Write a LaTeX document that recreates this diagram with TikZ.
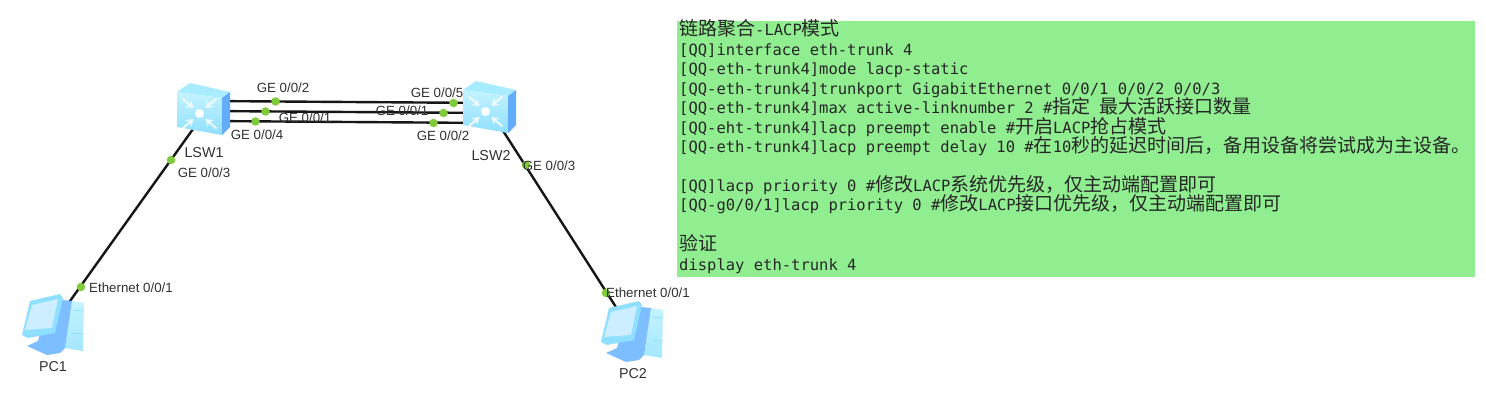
\documentclass[tikz,border=0pt]{standalone}
\usepackage{fontspec}
\setmainfont{Liberation Sans}
\setmonofont{DejaVu Sans Mono}
\newfontfamily\cjk{Noto Sans CJK SC}
\usetikzlibrary{arrows.meta,positioning,calc}
\definecolor{cfggreen}{HTML}{90EE90}
\definecolor{portgreen}{HTML}{7FCB3A}
\definecolor{linkblack}{HTML}{161616}
\definecolor{labelgray}{HTML}{303030}
\definecolor{icontop}{HTML}{A8ECFF}
\definecolor{iconlight}{HTML}{C4F3FF}
\definecolor{iconmid}{HTML}{8FDFFF}
\definecolor{iconside}{HTML}{7CBEFF}
\definecolor{iconblue}{HTML}{62ACFA}
\definecolor{iconscreen}{HTML}{CDEEFF}
\newcommand{\cn}[1]{{\cjk\fontsize{19}{19.45}\selectfont #1}}
\tikzset{
  devbox/.style={inner sep=0pt, minimum size=4pt},
  portdot/.style={circle, fill=portgreen, inner sep=0pt, minimum size=8.5pt},
  portlabel/.style={text=labelgray, inner sep=0pt, font=\fontsize{13.3}{15}\selectfont},
  devlabel/.style={text=labelgray, inner sep=0pt, font=\fontsize{14.3}{16}\selectfont},
  linkline/.style={linkblack, line width=2.4pt},
  cfgbox/.style={fill=cfggreen, inner sep=0pt, anchor=north west, minimum width=798pt, minimum height=256pt},
  cfgline/.style={inner sep=0pt, anchor=base west, text=black!85,
    font=\ttfamily\fontsize{15.5}{19.45}\selectfont},
  switchicon/.pic={
    \fill[icontop] (-30,-17.5) -- (-17,-26.5) -- (23,-17.5) -- (15,-11.5) -- cycle;
    \shade[top color=iconlight, bottom color=iconmid] (-30,-17.5) -- (15,-11.5) -- (15,25.5) -- (-30,17.5) -- cycle;
    \fill[iconblue] (15,-11.5) -- (23,-17.5) -- (23,17.5) -- (15,25.5) -- cycle;
    \foreach \sx/\sy in {-1/-1, 1/-1, -1/1, 1/1} {
      \draw[white!70!iconlight, line width=2pt, -{Stealth[length=7pt,width=9pt]}]
        (-7.5+\sx*17,4+\sy*15) -- (-7.5+\sx*6,4+\sy*5.5);
    }
    \fill[white] (-7.5,4) circle (4.5pt);
  },
  pcicon/.pic={
    \shade[top color=iconlight, bottom color=iconmid!60!iconlight] (17,-21) -- (29,-19) -- (28,29) -- (10,26) -- cycle;
    \fill[iconside] (7,-22) -- (17,-21) -- (10,26) -- (5,31) -- (-8,33) -- (-28,24) -- (-17,19) -- (-15,12) -- (0,9) -- cycle;
    \fill[iconmid] (-25,-21) -- (5,-28) -- (8,-24) -- (0,11) -- (-27,16) -- (-33,13) -- cycle;
    \fill[iconscreen] (-23,-17) -- (3,-23) -- (-3,6) -- (-30,8) -- cycle;
    \draw[iconmid, line width=.8pt] (18,-12) -- (28,-11) (17,11) -- (28,12);
  }
}
\begin{document}
\begin{tikzpicture}[x=1pt, y=-1pt]
  \useasboundingbox (0,0) rectangle (1486,409);

  \node[devbox] (LSW1) at (207,109.5) {};
  \node[devbox] (LSW2) at (491,112) {};
  \node[devbox] (PC1) at (55,322) {};
  \node[devbox] (PC2) at (630,329) {};

  \draw[linkline] ([yshift=8.5pt]LSW1.center) -- ([yshift=9pt]LSW2.center);
  \draw[linkline] ([yshift=-1.5pt]LSW1.center) -- ([yshift=-1pt]LSW2.center);
  \draw[linkline] ([yshift=-11.5pt]LSW1.center) -- ([yshift=-11pt]LSW2.center);
  \draw[linkline] (LSW1.center) -- (PC1.center);
  \draw[linkline] (LSW2.center) -- (PC2.center);

  \pic at (207,109.5) {switchicon};
  \pic at (493,107.5) {switchicon};
  \pic at (55,322) {pcicon};
  \pic at (634,329) {pcicon};

  \node[portdot] (p1a) at (275.5,101.5) {};
  \node[portdot] (p1b) at (265.5,111.5) {};
  \node[portdot] (p1c) at (255.5,121.5) {};
  \node[portdot] (p1d) at (171,160) {};
  \node[portdot] (p2a) at (453.5,103) {};
  \node[portdot] (p2b) at (443.5,113) {};
  \node[portdot] (p2c) at (433.5,123) {};
  \node[portdot] (p2d) at (526,165) {};
  \node[portdot] (pc1p) at (81,287) {};
  \node[portdot] (pc2p) at (606,293) {};

  \node[portlabel] (l1a) at (283,88) {GE 0/0/2};
  \node[portlabel] (l1b) at (305,118) {GE 0/0/1};
  \node[portlabel] (l1c) at (257,135) {GE 0/0/4};
  \node[portlabel] (l1d) at (204,173) {GE 0/0/3};
  \node[portlabel] (l2a) at (437,93) {GE 0/0/5};
  \node[portlabel] (l2b) at (402,110.5) {GE 0/0/1};
  \node[portlabel] (l2c) at (443,136) {GE 0/0/2};
  \node[portlabel] (l2d) at (549,166) {GE 0/0/3};
  \node[portlabel] (lpc1) at (131,288) {Ethernet 0/0/1};
  \node[portlabel] (lpc2) at (648,293) {Ethernet 0/0/1};

  \node[devlabel] (nLSW1) at (204,153) {LSW1};
  \node[devlabel] (nLSW2) at (491,156) {LSW2};
  \node[devlabel] (nPC1) at (53,367) {PC1};
  \node[devlabel] (nPC2) at (633,374) {PC2};

  \node[cfgbox] (cfg) at (677,21) {};
  \foreach \y/\cmd in {
    36/{\cn{链路聚合}-LACP\cn{模式}},
    55.5/{[QQ]interface eth-trunk 4},
    75/{[QQ-eth-trunk4]mode lacp-static},
    94.5/{[QQ-eth-trunk4]trunkport GigabitEthernet 0/0/1 0/0/2 0/0/3},
    114/{[QQ-eth-trunk4]max active-linknumber 2 \#\cn{指定} \cn{最大活跃接口数量}},
    133.5/{[QQ-eht-trunk4]lacp preempt enable \#\cn{开启}LACP\cn{抢占模式}},
    153/{[QQ-eth-trunk4]lacp preempt delay 10 \#\cn{在}10\cn{秒的延迟时间后，备用设备将尝试成为主设备。}},
    191/{[QQ]lacp priority 0 \#\cn{修改}LACP\cn{系统优先级，仅主动端配置即可}},
    210.5/{[QQ-g0/0/1]lacp priority 0 \#\cn{修改}LACP\cn{接口优先级，仅主动端配置即可}},
    250/{\cn{验证}},
    270/{display eth-trunk 4}} {
    \node[cfgline] (cmd\y) at (679,\y) {\cmd};
  }
\end{tikzpicture}
\end{document}
